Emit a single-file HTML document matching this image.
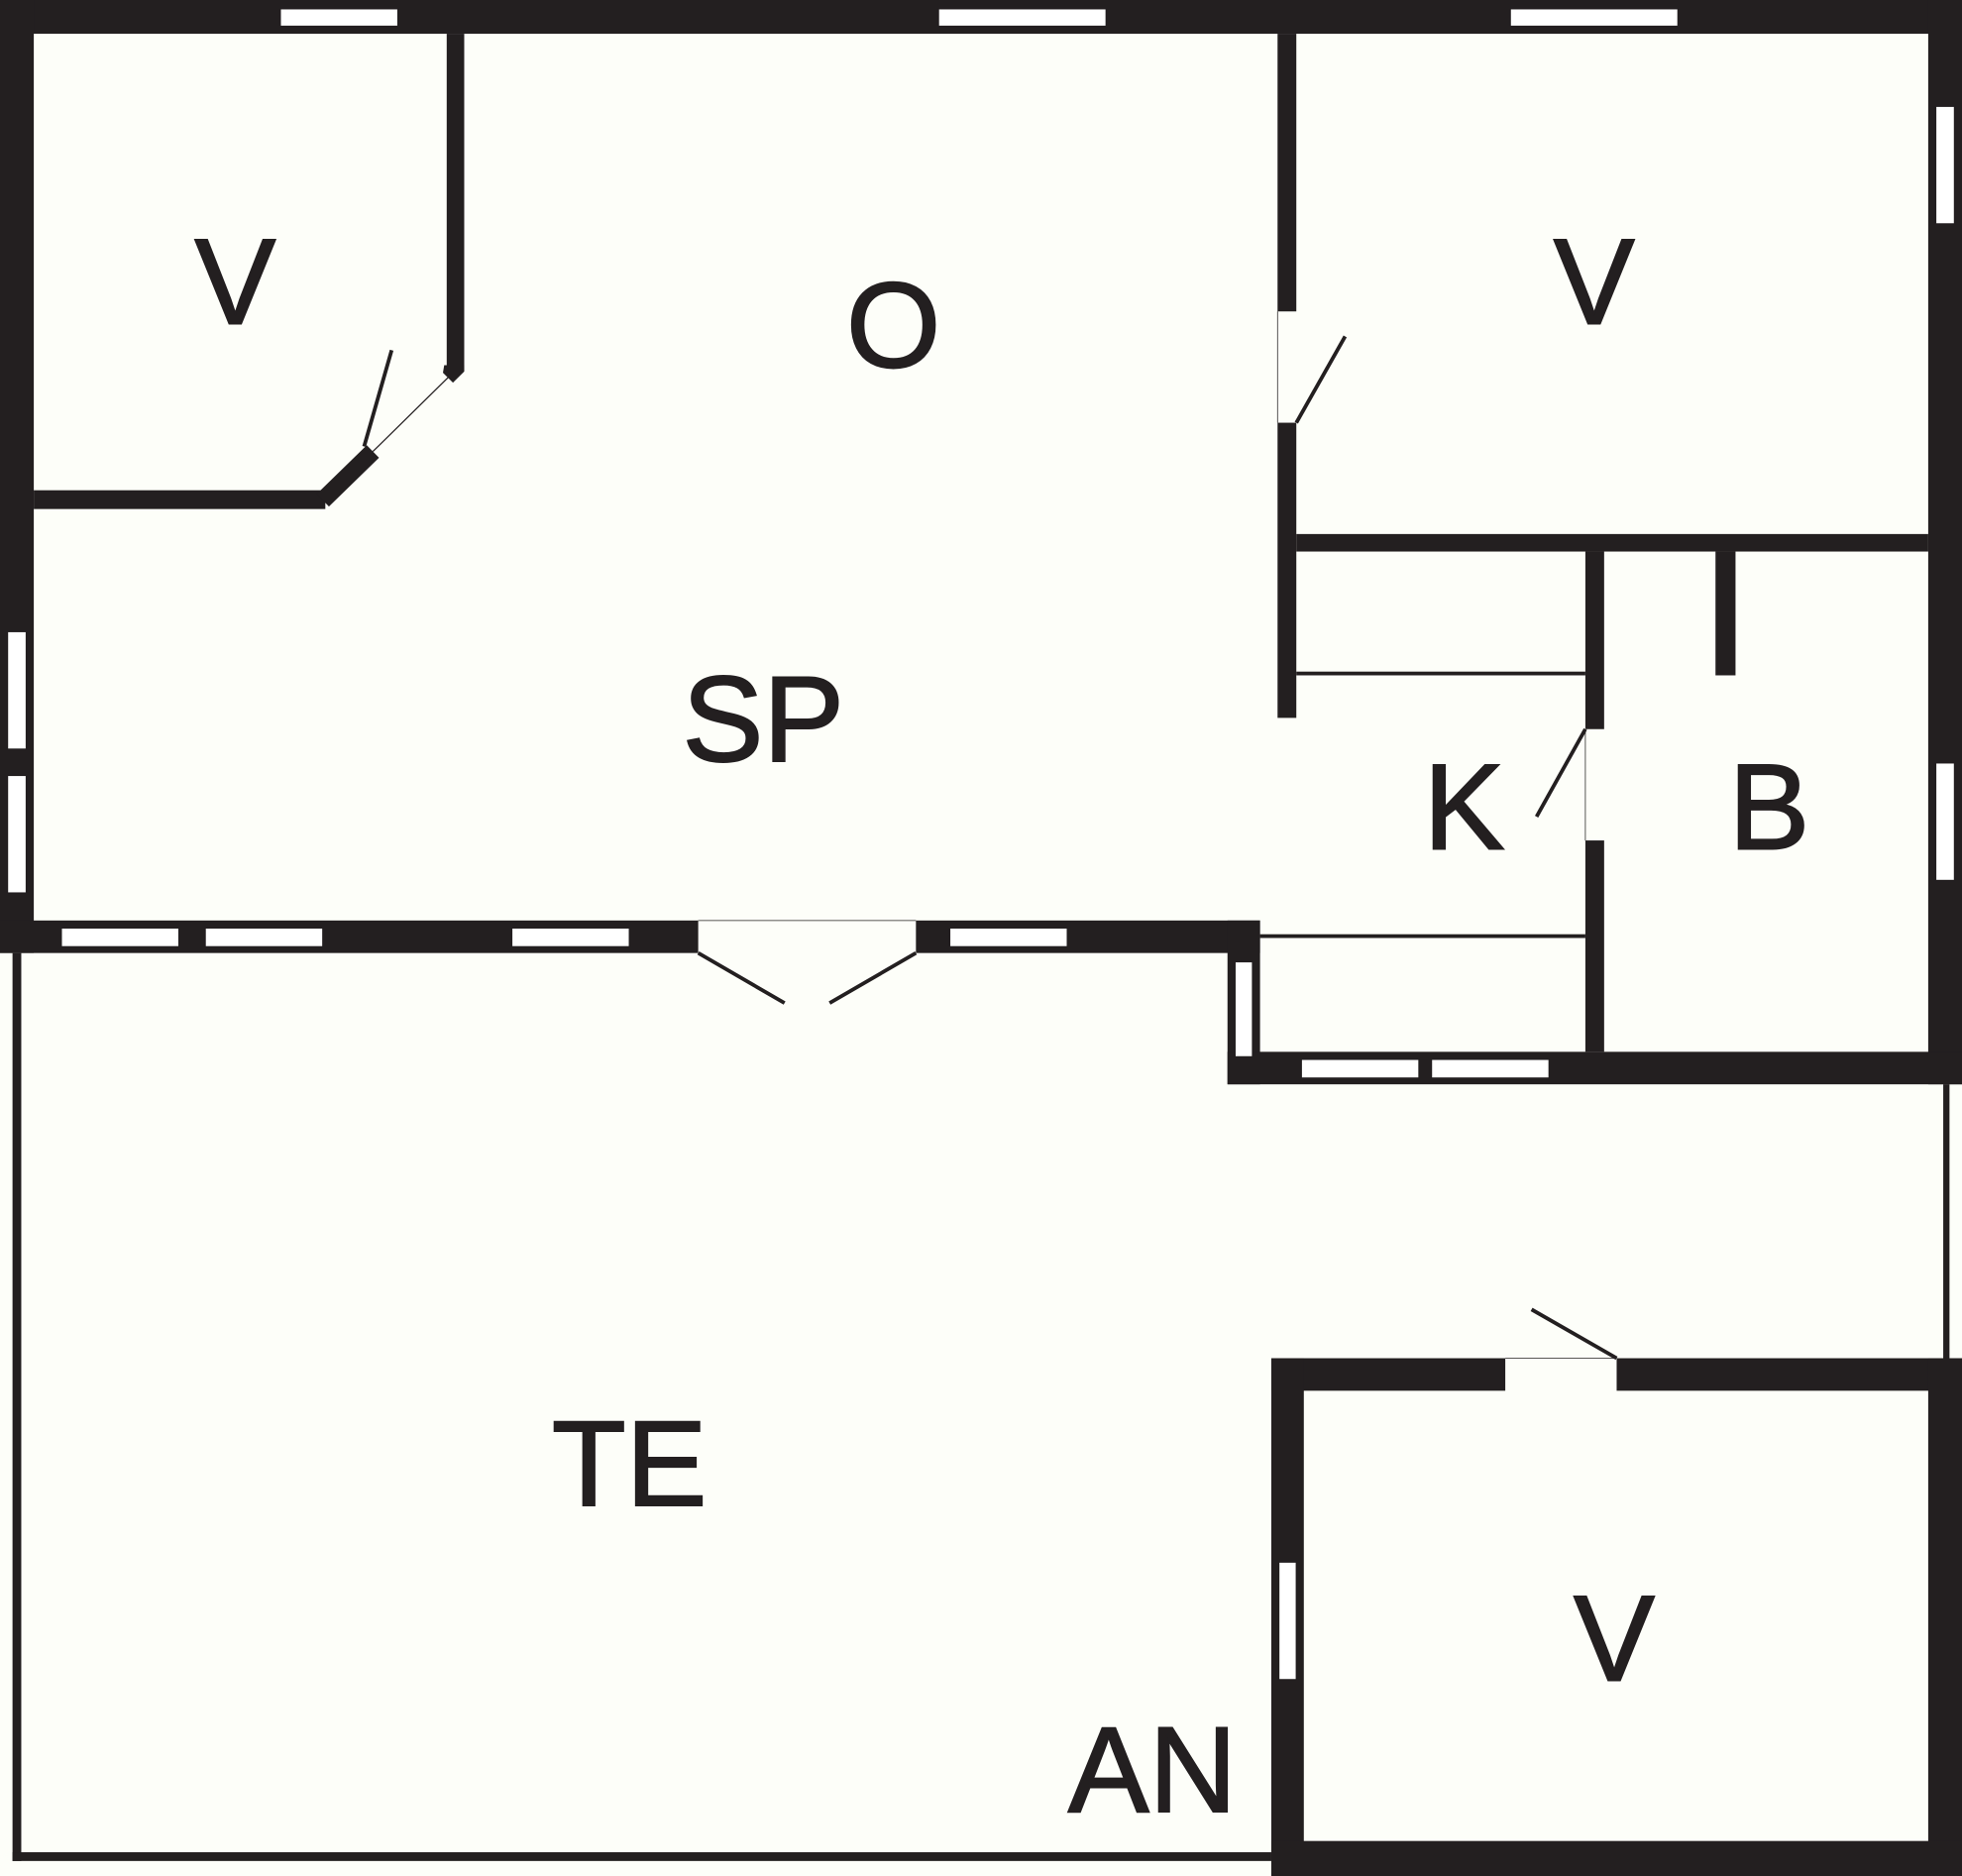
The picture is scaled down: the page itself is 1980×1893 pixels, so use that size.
<!DOCTYPE html>
<html><head><meta charset="utf-8"><style>
html,body{margin:0;padding:0;background:#fdfef9;}
svg{display:block}
text{font-family:"Liberation Sans",sans-serif;font-size:97px;fill:#231f20;stroke:#231f20;stroke-width:1.5;text-anchor:middle;dominant-baseline:central}
</style></head><body>
<svg width="1980" height="1893" viewBox="0 0 1568 1500" preserveAspectRatio="none" xmlns="http://www.w3.org/2000/svg">
<rect width="1568" height="1500" fill="#fdfef9"/>
<g fill="#231f20">
<rect x="0" y="0" width="1568" height="27"/>
<rect x="0" y="0" width="27" height="762"/>
<rect x="1541" y="0" width="27" height="867"/>
<rect x="357" y="27" width="14" height="270"/>
<rect x="27" y="392" width="233" height="15"/>
<rect x="1021" y="27" width="15" height="222"/>
<rect x="1021" y="338" width="15" height="236"/>
<rect x="1036" y="427" width="505" height="14"/>
<rect x="1267" y="441" width="15" height="142"/>
<rect x="1267" y="672" width="15" height="169"/>
<rect x="1371" y="441" width="16" height="99"/>
<rect x="0" y="736" width="558" height="26"/>
<rect x="732" y="736" width="275" height="26"/>
<rect x="981" y="736" width="26" height="131"/>
<rect x="981" y="841" width="587" height="26"/>
<rect x="1016" y="1086" width="187" height="26"/>
<rect x="1292" y="1086" width="276" height="26"/>
<rect x="1016" y="1086" width="26" height="414"/>
<rect x="1541" y="1086" width="27" height="414"/>
<rect x="1016" y="1472" width="552" height="28"/>
<rect x="10" y="762" width="7" height="726"/>
<rect x="10" y="1481" width="1006" height="7"/>
<rect x="1553" y="867" width="5" height="219"/>
<rect x="1036" y="537" width="231" height="3"/>
<rect x="1007" y="747" width="260" height="3"/>
</g>
<polyline points="258,400 298,361" stroke="#231f20" stroke-width="14" fill="none"/>
<polyline points="298,361 362,298" stroke="#231f20" stroke-width="1" fill="none"/>
<polygon points="355,292 371,292 371,297 362,306 354,298" fill="#231f20"/>
<g stroke="#231f20" stroke-width="3" fill="none">
<line x1="291" y1="357" x2="313" y2="280"/>
<line x1="1036" y1="338" x2="1075" y2="269"/>
<line x1="1267" y1="583" x2="1228" y2="653"/>
<line x1="558" y1="762" x2="627" y2="802"/>
<line x1="732" y1="762" x2="663" y2="802"/>
<line x1="1292" y1="1086" x2="1224" y2="1047"/>
</g>
<g stroke="#231f20" stroke-width="0.6" fill="none">
<line x1="558" y1="736" x2="732" y2="736"/>
<line x1="1203" y1="1086" x2="1292" y2="1086"/>
<line x1="1021" y1="249" x2="1021" y2="338"/>
<line x1="1267" y1="583" x2="1267" y2="672"/>
</g>
<g fill="#fff" stroke="#231f20" stroke-width="1">
<rect x="224" y="7" width="94" height="14"/>
<rect x="750" y="7" width="134" height="14"/>
<rect x="1207" y="7" width="134" height="14"/>
<rect x="6" y="505" width="15" height="94"/>
<rect x="6" y="620" width="15" height="94"/>
<rect x="1547" y="85" width="15" height="94"/>
<rect x="1547" y="610" width="15" height="94"/>
<rect x="49" y="742" width="94" height="15"/>
<rect x="164" y="742" width="94" height="15"/>
<rect x="409" y="742" width="94" height="15"/>
<rect x="759" y="742" width="94" height="15"/>
<rect x="987" y="769" width="14" height="76"/>
<rect x="1040" y="847" width="94" height="15"/>
<rect x="1144" y="847" width="94" height="15"/>
<rect x="1022" y="1249" width="14" height="94"/>
</g>
<text x="188" y="225">V</text>
<text x="714" y="260">O</text>
<text x="1274" y="225">V</text>
<text x="610" y="575">SP</text>
<text x="1170" y="645">K</text>
<text x="1414" y="645">B</text>
<text x="503" y="1170">TE</text>
<text x="921" y="1415">AN</text>
<text x="1290" y="1310">V</text>
</svg>
</body></html>
